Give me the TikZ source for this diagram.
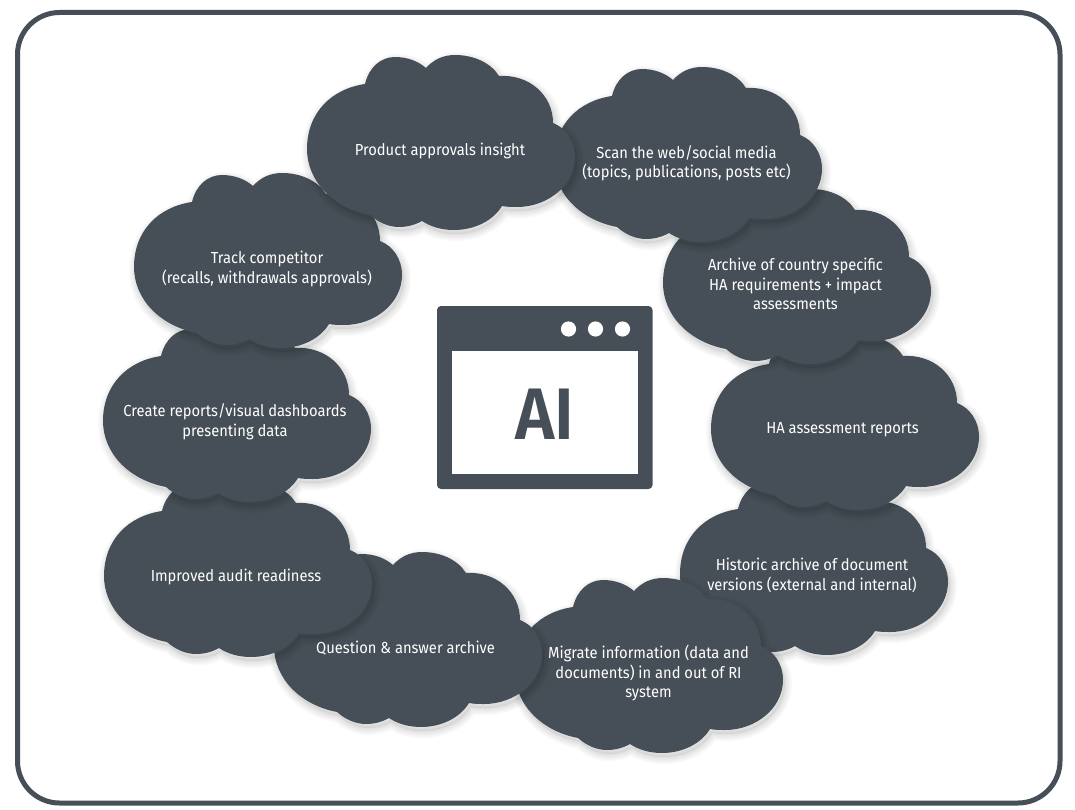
\documentclass[tikz,border=0pt]{standalone}
\usepackage{fontspec}
\setmainfont{Fira Sans}[FakeStretch=0.92,BoldFont={* SemiBold}]
\definecolor{slate}{HTML}{464F57}
\newcommand{\cloudpath}{(0,94)
  .. controls (0,58) and (24,34) .. (58,29)
  .. controls (62,12) and (74,2) .. (88,2)
  .. controls (100,2) and (111,6) .. (119,13)
  .. controls (127,4) and (137,0) .. (148,0)
  .. controls (167,0) and (184,8) .. (192,21)
  .. controls (222,19) and (246,40) .. (246,68)
  .. controls (259,73) and (268,86) .. (268,102)
  .. controls (268,130) and (241,152) .. (210,152)
  .. controls (205,152) and (200,152) .. (195,151)
  .. controls (186,166) and (167,175) .. (147,175)
  .. controls (135,175) and (124,172) .. (115,166)
  .. controls (108,170) and (100,172) .. (92,172)
  .. controls (81,172) and (71,167) .. (63,160)
  .. controls (26,153) and (0,126) .. (0,94) -- cycle}
\tikzset{
  cloudshape/.pic={
    % soft shadow
    \foreach \s in {10,...,1}
      \draw[black,opacity=0.012,shift={(2,4)},line width=\s*1.5pt,line join=round] \cloudpath;
    \fill[black,opacity=0.05,shift={(2,4)}] \cloudpath;
    \fill[slate] \cloudpath;
  },
  cloudtext/.style={text=white,align=center,font=\fontsize{16}{19.5}\selectfont,inner sep=0pt}
}
\begin{document}
\begin{tikzpicture}[x=1pt,y=-1pt]
  \useasboundingbox (0,0) rectangle (1075,810);
  \fill[white] (0,0) rectangle (1075,810);
  % frame
  \draw[slate,line width=5pt,rounded corners=42pt] (17.5,12.5) rectangle (1060,803);

  % clouds, back to front
  \pic at (680,480) {cloudshape};
  \node[cloudtext] (historic) at (812,575.5) {Historic archive of document\\versions (external and internal)};
  \pic at (515,578) {cloudshape};
  \node[cloudtext] (migrate) at (648.5,673) {Migrate information (data and\\documents) in and out of RI\\system};
  \pic at (711,335) {cloudshape};
  \node[cloudtext] (hareports) at (842.5,430) {HA assessment reports};
  \pic at (274,552) {cloudshape};
  \node[cloudtext] (question) at (405.5,648) {Question \& answer archive};
  \pic at (663,189) {cloudshape};
  \node[cloudtext] (archive) at (795.5,284) {Archive of country specific\\HA requirements + impact\\assessments};
  \pic at (104,482) {cloudshape};
  \node[cloudtext] (audit) at (236,576.5) {Improved audit readiness};
  \pic at (554,67) {cloudshape};
  \node[cloudtext] (scan) at (686.5,163) {Scan the web/social media\\(topics, publications, posts etc)};
  \pic at (103,327) {cloudshape};
  \node[cloudtext] (reports) at (235,421.5) {Create reports/visual dashboards\\presenting data};
  \pic at (134,173) {cloudshape};
  \node[cloudtext] (track) at (267,269) {Track competitor\\(recalls, withdrawals approvals)};
  \pic at (307,55) {cloudshape};
  \node[cloudtext] (product) at (440,151) {Product approvals insight};

  % window in the middle
  \fill[slate,rounded corners=4pt] (437,306) rectangle (652.5,489);
  \fill[white] (452,350.5) rectangle (637.5,474);
  \foreach \x in {568.5,595.5,622.5}
    \fill[white] (\x,329) circle (7.6);
  \node[text=slate,inner sep=0pt,font=\fontsize{73}{73}\bfseries\selectfont] (ai) at (545,414) {AI};
\end{tikzpicture}
\end{document}
